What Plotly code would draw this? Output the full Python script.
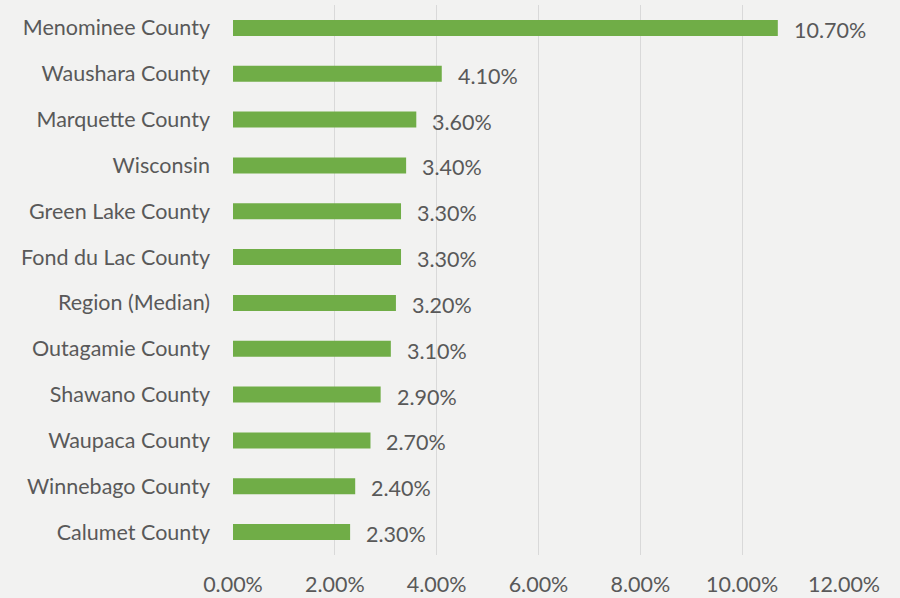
import plotly.graph_objects as go

# Share of population by area (percent)
areas = [
    "Menominee County", "Waushara County", "Marquette County", "Wisconsin",
    "Green Lake County", "Fond du Lac County", "Region (Median)",
    "Outagamie County", "Shawano County", "Waupaca County",
    "Winnebago County", "Calumet County",
]
values = [10.7, 4.1, 3.6, 3.4, 3.3, 3.3, 3.2, 3.1, 2.9, 2.7, 2.4, 2.3]
tick_vals = [0, 2, 4, 6, 8, 10, 12]
tick_text = ["0.00%", "2.00%", "4.00%", "6.00%", "8.00%", "10.00%", "12.00%"]

FONT = "Lato, 'Liberation Sans', sans-serif"
TEXT = "#595959"
BG = "#f2f2f1"
SIZE = 21.5

fig = go.Figure(
    go.Bar(
        x=values,
        y=areas,
        orientation="h",
        width=0.35,
        marker=dict(color="#70ad47", line=dict(width=0)),
        hoverinfo="skip",
    )
)

for a, v in zip(areas, values):
    fig.add_annotation(
        x=v, y=a, text=f"{v:.2f}%", showarrow=False,
        xanchor="left", yanchor="middle", xshift=14, yshift=-2,
        font=dict(family=FONT, size=SIZE, color=TEXT),
    )

fig.update_layout(
    width=900, height=598,
    margin=dict(l=233, r=56, t=5, b=43, autoexpand=False),
    paper_bgcolor=BG, plot_bgcolor=BG,
    showlegend=False,
    font=dict(family=FONT, size=SIZE, color=TEXT),
    bargap=0.65,
)
fig.update_xaxes(
    range=[0, 12], tickvals=tick_vals, ticktext=tick_text,
    showgrid=True, gridcolor="#d9d9d9", gridwidth=1,
    zeroline=False, showline=False, ticks="",
    tickfont=dict(family=FONT, size=SIZE, color=TEXT),
    ticklabelstandoff=14, automargin=False,
)
fig.update_yaxes(
    categoryorder="array", categoryarray=areas[::-1],
    showgrid=False, zeroline=False, showline=False, ticks="",
    tickfont=dict(family=FONT, size=SIZE, color=TEXT),
    ticklabelstandoff=22, automargin=False,
)

fig.write_html("out.html")
